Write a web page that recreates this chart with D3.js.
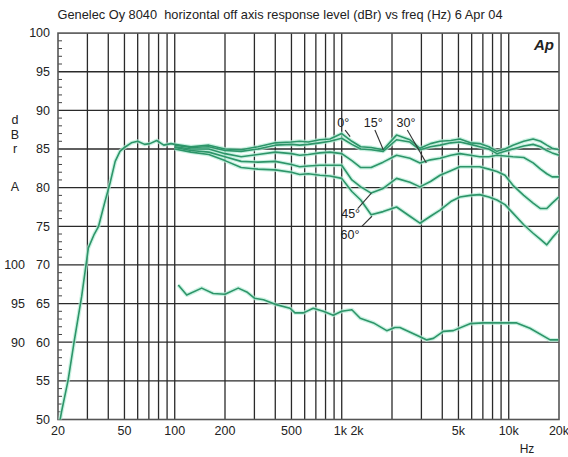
<!DOCTYPE html>
<html><head><meta charset="utf-8">
<script src="https://cdn.jsdelivr.net/npm/d3@7"></script>
<style>
html,body{margin:0;padding:0;background:#fff;}
svg{display:block;font-family:"Liberation Sans",Arial,sans-serif;}
</style></head>
<body><svg id="chart" width="568" height="457"></svg>
<script>
// ---------- DATA ----------
const title = "Genelec Oy 8040  horizontal off axis response level (dBr) vs freq (Hz) 6 Apr 04";
const yTicks = [50,55,60,65,70,75,80,85,90,95,100];
const y2Ticks = [90,95,100];
const xGrid = [30,40,50,60,70,80,90,100,200,300,400,500,600,700,800,900,1000,2000,3000,4000,5000,6000,7000,8000,9000,10000];
const xTickVals = [20,50,100,200,500,1000,5000,10000,20000];
const xTickLabels = ["20","50","100","200","500","1k 2k","5k","10k","20k"];

// low-frequency part shared by all angles
const lfFreq = [20,21,23,25,27.7,30.4,33,35,38,41,44,47,50,55,60,66,71,78,86,95,100];
const lfVals = [48.5,51,55.1,60.1,65.9,72.2,74,75,78,80.6,83.4,84.7,85.2,85.8,86.0,85.6,85.7,86.1,85.5,85.7,85.6];

const offFreq = [100,125,160,200,250,315,400,500,560,630,740,850,1000,1150,1300,1500,1770,2130,2560,2940,3400,3880,4500,5100,5900,6700,7600,8500,9500,10600,12300,14000,15500,16900,18200,20000];
const deg0  = [85.6,85.3,85.5,85.0,84.9,85.3,85.8,85.9,86.0,85.9,86.2,86.3,87.0,86.0,85.3,85.2,84.9,86.8,86.2,85.1,85.7,86.0,86.1,86.3,85.8,85.7,85.3,84.7,85.0,85.5,86.0,86.3,86.0,85.5,85.1,84.9];
const deg15 = [85.5,85.2,85.3,84.8,84.7,85.0,85.5,85.6,85.5,85.6,85.8,86.0,86.4,85.6,85.0,84.9,84.7,86.2,85.9,84.9,85.3,85.5,85.8,85.9,85.6,85.3,85.0,84.4,84.7,85.0,85.4,85.6,85.3,84.8,84.5,84.2];
const deg30 = [85.3,85.0,85.0,84.4,84.0,84.3,84.6,84.4,84.2,84.3,84.5,84.6,84.4,83.5,82.6,82.6,83.3,84.2,83.8,83.2,83.6,83.8,84.2,84.4,84.2,84.0,84.0,84.2,84.1,84.0,83.9,83.2,82.4,81.8,81.4,81.4];
const deg45 = [85.2,84.8,84.6,84.0,83.4,83.3,83.4,83.0,82.7,82.8,82.9,82.9,82.9,81.0,80.1,79.3,79.9,81.2,80.7,80.1,80.8,81.6,82.2,82.7,82.7,82.7,82.4,82.1,81.6,80.3,79.0,78.0,77.3,77.3,78.0,78.8];
const deg60 = [85.0,84.6,84.3,83.5,82.6,82.4,82.3,82.0,81.7,81.8,81.6,81.5,81.2,79.5,78.4,76.5,76.9,77.5,76.3,75.4,76.3,77.1,78.2,78.8,79.0,79.1,78.8,78.4,77.8,76.7,75.2,74.1,73.3,72.6,73.5,74.5];

// lower trace, read on the secondary (100/95/90) scale
const botFreq = [105,118,145,170,200,240,270,300,340,400,490,525,590,675,775,890,1000,1150,1290,1550,1860,2080,2230,2940,3230,3540,4060,4660,5860,7040,8470,11160,13400,17700,19800];
const botVals = [97.4,96.1,97.0,96.3,96.2,97.0,96.5,95.7,95.5,94.9,94.4,93.8,93.8,94.4,94.0,93.5,94.0,94.2,93.1,92.5,91.5,91.9,91.9,90.7,90.3,90.5,91.4,91.5,92.4,92.5,92.5,92.5,91.8,90.3,90.3];

// angle labels: [text, freq, dB] and leader lines [f1, dB1, f2, dB2]
const angleLabels = [["0°",1022,88.4],["15°",1545,88.4],["30°",2426,88.4],["45°",1131,76.7],["60°",1121,73.9]];
const leaders = [[1048,87.45,1123,86.6],[1580,87.45,1774,84.9],[2470,87.45,3210,83.2],[1246,77.3,1505,79.3],[1320,75.0,1516,76.3]];

// ---------- CHART ----------
const svg = d3.select("#chart");
const L = 58, R = 559, T = 33.1, B = 419.5;
const x = d3.scaleLog().domain([20,20000]).range([L,R]);
const y = d3.scaleLinear().domain([50,100]).range([B,T]);
const y2 = d3.scaleLinear().domain([80,130]).range([B,T]);

svg.append("defs").append("clipPath").attr("id","clip")
  .append("rect").attr("x",L).attr("y",T).attr("width",R-L).attr("height",B-T);

// title
svg.append("text").attr("x",280).attr("y",19).attr("text-anchor","middle")
  .attr("xml:space","preserve").style("white-space","pre")
  .attr("font-size",12.8).attr("fill","#222").text(title);

// grid
const g = svg.append("g");
g.selectAll("line.h").data(yTicks.slice(1,-1)).join("line")
  .attr("x1",L).attr("x2",R).attr("y1",d=>y(d)).attr("y2",d=>y(d))
  .attr("stroke","#2a2a2a").attr("stroke-width",1.3);
g.selectAll("line.v").data(xGrid).join("line")
  .attr("y1",T).attr("y2",B).attr("x1",d=>x(d)).attr("x2",d=>x(d))
  .attr("stroke","#2a2a2a").attr("stroke-width",1.3);
// minor ticks on left edge
g.selectAll("line.m").data(d3.range(51,100).filter(v=>v%5!==0)).join("line")
  .attr("x1",L).attr("x2",L+4).attr("y1",d=>y(d)).attr("y2",d=>y(d))
  .attr("stroke","#444").attr("stroke-width",1);
// border
svg.append("rect").attr("x",L).attr("y",T).attr("width",R-L).attr("height",B-T)
  .attr("fill","none").attr("stroke","#555").attr("stroke-width",1.6);

// y labels
svg.append("g").selectAll("text").data(yTicks).join("text")
  .attr("x",50).attr("y",d=>y(d)).attr("dy","0.35em").attr("text-anchor","end")
  .attr("font-size",12.5).attr("fill","#222").text(d=>d);
svg.append("g").selectAll("text").data(y2Ticks).join("text")
  .attr("x",25).attr("y",d=>y2(d)).attr("dy","0.35em").attr("text-anchor","end")
  .attr("font-size",12.5).attr("fill","#222").text(d=>d);
// y axis title
[["d",120],["B",135],["r",149],["A",187]].forEach(([t,yy])=>{
  svg.append("text").attr("x",15).attr("y",yy).attr("dy","0.35em").attr("text-anchor","middle")
    .attr("font-size",12.5).attr("fill","#222").text(t);
});
// x labels
svg.append("g").selectAll("text").data(xTickVals).join("text")
  .attr("x",(d,i)=>xTickLabels[i].includes(" ") ? x(d)-8 : x(d))
  .attr("y",435).attr("text-anchor",(d,i)=>xTickLabels[i].includes(" ") ? "start" : "middle")
  .attr("font-size",12.5).attr("fill","#222").text((d,i)=>xTickLabels[i]);
svg.append("text").attr("x",527).attr("y",453).attr("text-anchor","middle")
  .attr("font-size",12).attr("fill","#222").text("Hz");
// Ap logo
svg.append("text").attr("x",554).attr("y",50).attr("text-anchor","end")
  .attr("font-size",15).attr("font-weight","bold").attr("font-style","italic")
  .attr("fill","#222").text("Ap");

// curves
const curves = svg.append("g").attr("clip-path","url(#clip)");
const line = d3.line().x(d=>x(d[0])).y(d=>y(d[1]));
const line2 = d3.line().x(d=>x(d[0])).y(d=>y2(d[1]));
const series = [deg60,deg45,deg30,deg15,deg0].map(v=>offFreq.map((f,i)=>[f,v[i]]));
const lf = lfFreq.map((f,i)=>[f,lfVals[i]]);
const bot = botFreq.map((f,i)=>[f,botVals[i]]);
function draw(path){
  curves.append("path").attr("d",path).attr("fill","none")
    .attr("stroke","#b5ecd6").attr("stroke-width",4).attr("stroke-opacity",0.7).attr("stroke-linejoin","round");
}
series.forEach(s=>draw(line(s)));
draw(line(lf)); draw(line2(bot));
function drawMain(path){
  curves.append("path").attr("d",path).attr("fill","none")
    .attr("stroke","#2d9569").attr("stroke-width",1.6).attr("stroke-linejoin","round");
}
series.forEach(s=>drawMain(line(s)));
drawMain(line(lf)); drawMain(line2(bot));

// leaders and angle labels
svg.append("g").selectAll("line").data(leaders).join("line")
  .attr("x1",d=>x(d[0])).attr("y1",d=>y(d[1])).attr("x2",d=>x(d[2])).attr("y2",d=>y(d[3]))
  .attr("stroke","#333").attr("stroke-width",1.1);
svg.append("g").selectAll("text").data(angleLabels).join("text")
  .attr("x",d=>x(d[1])).attr("y",d=>y(d[2])).attr("dy","0.35em").attr("text-anchor","middle")
  .attr("font-size",12.5).attr("fill","#222").text(d=>d[0]);
</script></body></html>
